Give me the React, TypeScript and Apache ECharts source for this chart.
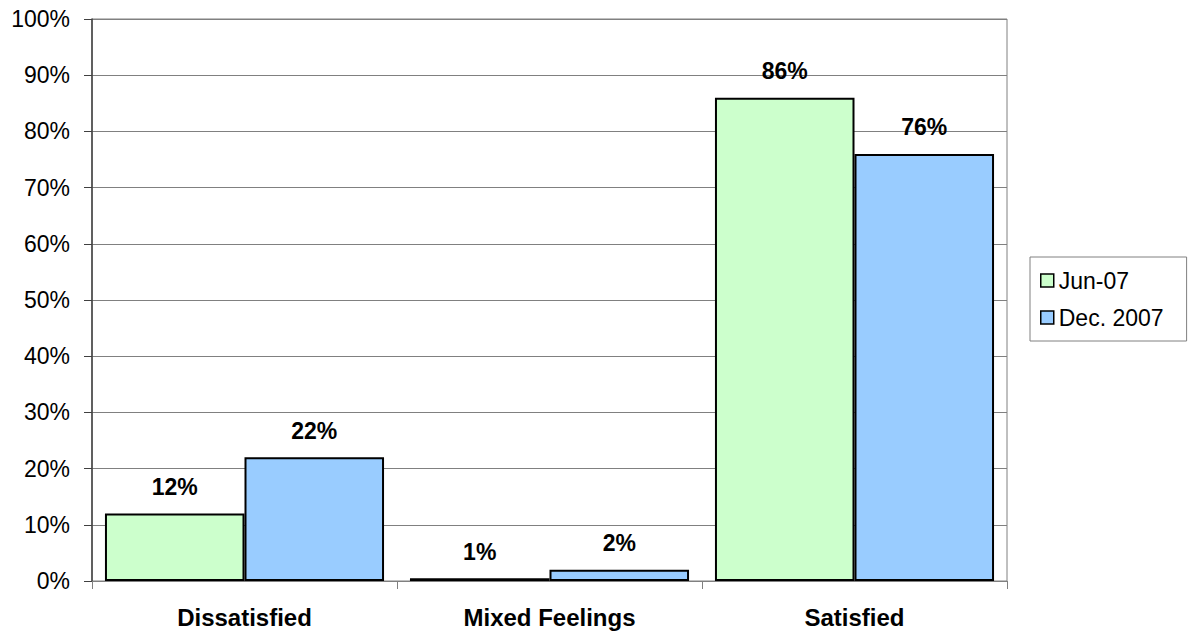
import React, { useEffect, useRef } from "react";
import * as echarts from "echarts";

const categories = ["Dissatisfied", "Mixed Feelings", "Satisfied"];
const seriesNames = ["Jun-07", "Dec. 2007"];
const jun07 = [12, 0.5, 86];
const dec2007 = [22, 2, 76];
const colors = ["#CCFFCC", "#99CCFF"];

export default function App() {
  const ref = useRef<HTMLDivElement>(null);
  useEffect(() => {
    if (!ref.current) return;
    const chart = echarts.init(ref.current, null, { renderer: "svg" });
    const font = "'Liberation Sans', Arial, sans-serif";
    const mkSeries = (name: string, data: number[], color: string) => ({
      name,
      type: "bar",
      data,
      barGap: "0%",
      barCategoryGap: "8.5%",
      itemStyle: { color, borderColor: "#000", borderWidth: 2 },
      label: {
        show: true,
        position: "top",
        distance: 15,
        formatter: (p: any) => Math.round(p.value) + "%",
        fontFamily: font,
        fontWeight: "bold",
        fontSize: 23,
        color: "#000",
      },
    });
    chart.setOption({
      animation: false,
      backgroundColor: "#fff",
      grid: { left: 92, right: 182, top: 19, bottom: 54, containLabel: false, show: true, borderColor: "#808080", borderWidth: 1 },
      legend: {
        orient: "vertical",
        left: 1030,
        top: 257,
        data: seriesNames,
        itemWidth: 13,
        itemHeight: 13,
        itemGap: 14,
        padding: [12, 23, 12, 10],
        borderColor: "#808080",
        borderWidth: 1,
        icon: "rect",
        textStyle: { fontFamily: font, fontSize: 23, color: "#000" },
        itemStyle: { borderColor: "#000", borderWidth: 1.5 },
      },
      xAxis: {
        type: "category",
        data: categories,
        axisLine: { lineStyle: { color: "#808080", width: 1 } },
        axisTick: { show: true, length: 8, lineStyle: { color: "#808080" } },
        axisLabel: { fontFamily: font, fontWeight: "bold", fontSize: 24, color: "#000", margin: 24 },
      },
      yAxis: {
        type: "value",
        min: 0,
        max: 100,
        interval: 10,
        axisLine: { show: true, lineStyle: { color: "#404040", width: 1.5 } },
        axisTick: { show: true, length: 8, lineStyle: { color: "#404040" } },
        splitLine: { lineStyle: { color: "#808080", width: 1 } },
        axisLabel: { fontFamily: font, fontSize: 23, color: "#000", margin: 22, formatter: "{value}%" },
      },
      series: [mkSeries(seriesNames[0], jun07, colors[0]), mkSeries(seriesNames[1], dec2007, colors[1])],
    });
    return () => chart.dispose();
  }, []);
  return <div ref={ref} style={{ width: 1189, height: 635, position: "absolute", left: 0, top: 0 }} />;
}
